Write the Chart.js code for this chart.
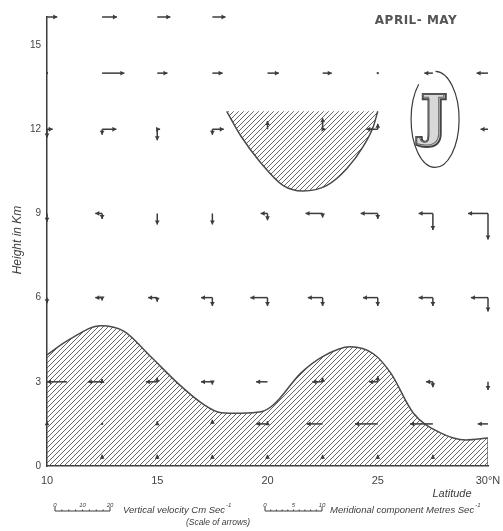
<!DOCTYPE html>
<html>
<head>
<meta charset="utf-8">
<script src="https://cdn.jsdelivr.net/npm/chart.js@4"></script>
<style>
  html, body { margin: 0; padding: 0; background: #fff; }
  #wrap { width: 503px; height: 531px; }
</style>
</head>
<body>
<div id="wrap"><canvas id="chart" width="503" height="531"></canvas></div>
<script>
// grid of arrows
const arrowLats = [10, 12.5, 15, 17.5, 20, 22.5, 25, 27.5, 30];
const arrowHeights = [16, 14, 12, 9, 6, 3, 1.5, 0.25];
// meridional component, m/s (+ = northward)
const meridional = [
  [1.8, 2.6, 2.3, 2.3, null, null, null, null, null],
  [0.3, 3.9, 1.8, 1.8, 2.0, 1.6, 0.3, -1.5, -2.0],
  [1.0, 2.5, 0.5, 2.0, 0.2, 0.5, -2.0, null, -1.3],
  [0.3, -1.2, -0.3, -0.3, -1.2, -3.0, -3.0, -2.5, -3.5],
  [0.3, -1.2, -1.6, -2.0, -3.0, -2.6, -2.6, -2.5, -3.0],
  [-3.5, -2.5, -2.0, -2.0, -2.0, -1.8, -1.5, -1.2, -0.3],
  [0, 0, 0, -0.3, -2.0, -2.8, -4.0, -4.0, -1.8],
  [null, 0, 0, 0, 0, 0, 0, 0, null]
];
// vertical velocity, cm/s (+ = upward)
const vertical = [
  [0, 0, 0, 0, null, null, null, null, null],
  [0, 0, 0, 0, 0, 0, 0, 0, 0],
  [-3, -2, -4, -2, 3, 4, 2, null, 0],
  [-3, -2, -4, -4, -2.5, -1.5, -2, -6, -9.5],
  [-2, -1, -1.5, -3, -3, -3, -3, -3, -5],
  [0, 1, 1.5, -1, 0, 1.5, 2, -2, -3],
  [1, 0.5, 1, 1.5, 1, 0, 0, 0, 0],
  [null, 1.5, 1.5, 1.5, 1.5, 1.5, 1.5, 1.5, null]
];

// lower hatched region (height, km)
const lowerLats = [10, 11, 12.45, 13.5, 14.7, 16, 17, 17.9, 18.8, 19.7, 20.3, 21.5, 22.5, 23.75, 24.8, 25.6, 26.6, 27.8, 29, 30];
const lowerTop  = [3.96, 4.5, 5.0, 4.8, 3.9, 2.9, 2.25, 1.9, 1.88, 1.93, 2.2, 3.3, 3.9, 4.25, 4.0, 3.3, 1.9, 1.2, 0.93, 1.0];
// upper hatched region
const upperLats   = [18.15, 18.8, 19.7, 20.7, 21.6, 22.7, 23.6, 24.35, 24.8, 25.0];
const upperBottom = [12.64, 11.75, 10.8, 10.0, 9.8, 10.0, 10.6, 11.4, 12.1, 12.64];
const upperCeiling = 12.64;

const xTicks = [10, 15, 20, 25, 30];
const yTicks = [0, 3, 6, 9, 12, 15];

const INK = '#3c3c3c';
const PX_PER_MS = 5.7;    // arrow scale, meridional
const PX_PER_CMS = 2.75;  // arrow scale, vertical

function hatch() {
  const c = document.createElement('canvas');
  c.width = 5; c.height = 5;
  const g = c.getContext('2d');
  g.strokeStyle = '#555';
  g.lineWidth = 0.9;
  g.beginPath();
  g.moveTo(-1, 6); g.lineTo(6, -1);
  g.moveTo(-1, 1); g.lineTo(1, -1);
  g.moveTo(4, 6); g.lineTo(6, 4);
  g.stroke();
  return g.createPattern(c, 'repeat');
}
const pattern = hatch();

function head(ctx, x, y, dx, dy) {
  const L = 4, W = 2.4;
  ctx.beginPath();
  ctx.moveTo(x, y);
  ctx.lineTo(x - dx * L - dy * W, y - dy * L + dx * W);
  ctx.lineTo(x - dx * L + dy * W, y - dy * L - dx * W);
  ctx.closePath();
  ctx.fill();
}

const arrowPlugin = {
  id: 'arrows',
  afterDatasetsDraw(chart) {
    const { ctx, scales: { x, y }, chartArea } = chart;
    ctx.save();
    ctx.strokeStyle = INK;
    ctx.fillStyle = INK;
    ctx.lineWidth = 1.5;
    arrowHeights.forEach((h, r) => {
      arrowLats.forEach((lat, c) => {
        const u = meridional[r][c], w = vertical[r][c];
        if (u === null || w === null) return;
        const px = x.getPixelForValue(lat), py = y.getPixelForValue(h);
        let du = u * PX_PER_MS, dw = w * PX_PER_CMS;
        let ox = 0;
        if (px + du < chartArea.left - 2) ox = -du;
        if (Math.abs(du) < 2.5 && Math.abs(dw) < 2.5) {
          ctx.fillRect(px - 1, py - 1, 2, 2);
          return;
        }
        if (Math.abs(du) >= 2.5) {
          ctx.beginPath();
          ctx.moveTo(px + ox, py);
          ctx.lineTo(px + ox + du, py);
          ctx.stroke();
          head(ctx, px + ox + du, py, Math.sign(du), 0);
        }
        if (Math.abs(dw) >= 2.5) {
          ctx.beginPath();
          ctx.moveTo(px, py);
          ctx.lineTo(px, py - dw);
          ctx.stroke();
          head(ctx, px, py - dw, 0, -Math.sign(dw));
        }
      });
    });
    ctx.restore();
  }
};

function scaleBar(ctx, x0, len, n, labels) {
  const yb = 511;
  ctx.beginPath();
  ctx.moveTo(x0, yb); ctx.lineTo(x0 + len, yb);
  ctx.moveTo(x0, yb - 4); ctx.lineTo(x0, yb);
  ctx.moveTo(x0 + len, yb - 4); ctx.lineTo(x0 + len, yb);
  for (let i = 1; i < n; i++) {
    const xx = x0 + len * i / n;
    ctx.moveTo(xx, yb - 1.5); ctx.lineTo(xx, yb);
  }
  ctx.stroke();
  ctx.font = 'italic 6px "Liberation Sans"';
  ctx.textAlign = 'center';
  labels.forEach((t, i) => ctx.fillText(t, x0 + len * i / (labels.length - 1), yb - 6));
}

const decorPlugin = {
  id: 'decor',
  afterDraw(chart) {
    const { ctx, scales: { x, y } } = chart;
    ctx.save();
    ctx.fillStyle = INK;
    ctx.strokeStyle = INK;

    // title
    ctx.font = 'bold 12px "DejaVu Sans"';
    ctx.textAlign = 'center';
    ctx.textBaseline = 'middle';
    ctx.letterSpacing = '0.5px';
    ctx.fillStyle = '#555';
    ctx.fillText('APRIL- MAY', 416, 21);
    ctx.letterSpacing = '0px';
    ctx.fillStyle = INK;

    // J emblem
    const cx = x.getPixelForValue(27.6), cy = y.getPixelForValue(12.35);
    ctx.lineWidth = 1.2;
    ctx.beginPath();
    ctx.ellipse(cx, cy, 24, 48, 0, -89 * Math.PI / 180, 227 * Math.PI / 180);
    ctx.stroke();
    ctx.font = 'bold 54px "DejaVu Serif"';
    ctx.lineWidth = 4;
    ctx.strokeStyle = '#444';
    ctx.strokeText('J', cx - 1, cy + 2);
    ctx.fillStyle = '#d8d8d8';
    ctx.fillText('J', cx - 1, cy + 2);
    ctx.lineWidth = 1;
    ctx.strokeStyle = '#666';
    ctx.strokeText('J', cx - 2, cy + 1);
    ctx.fillStyle = INK;
    ctx.strokeStyle = INK;

    // axis titles
    ctx.font = 'italic 12px "Liberation Sans"';
    ctx.save();
    ctx.translate(18, 240);
    ctx.rotate(-Math.PI / 2);
    ctx.fillText('Height in Km', 0, 0);
    ctx.restore();
    ctx.font = 'italic 11px "Liberation Sans"';
    ctx.fillText('Latitude', 452, 494);

    // scale of arrows
    ctx.lineWidth = 1;
    scaleBar(ctx, 55, 20 * PX_PER_CMS, 8, ['0', '10', '20']);
    scaleBar(ctx, 265, 10 * PX_PER_MS, 10, ['0', '5', '10']);
    ctx.font = 'italic 9.5px "Liberation Sans"';
    ctx.textAlign = 'left';
    ctx.textBaseline = 'alphabetic';
    let t = 'Vertical velocity Cm Sec';
    ctx.fillText(t, 123, 513);
    let tw = ctx.measureText(t).width;
    ctx.font = 'italic 6px "Liberation Sans"';
    ctx.fillText('-1', 123 + tw + 1, 507);
    ctx.font = 'italic 9.5px "Liberation Sans"';
    t = 'Meridional component Metres Sec';
    ctx.fillText(t, 330, 513);
    tw = ctx.measureText(t).width;
    ctx.font = 'italic 6px "Liberation Sans"';
    ctx.fillText('-1', 330 + tw + 1, 507);
    ctx.font = 'italic 8.5px "Liberation Sans"';
    ctx.textAlign = 'center';
    ctx.fillText('(Scale of arrows)', 218, 525);
    ctx.restore();
  }
};

new Chart(document.getElementById('chart'), {
  type: 'line',
  data: {
    datasets: [
      {
        data: lowerLats.map((v, i) => ({ x: v, y: lowerTop[i] })),
        borderColor: '#4a4a4a',
        borderWidth: 1.5,
        backgroundColor: pattern,
        fill: 'origin',
        pointRadius: 0,
        cubicInterpolationMode: 'monotone'
      },
      {
        data: [{ x: 30, y: 0 }, { x: 30, y: lowerTop[lowerTop.length - 1] }],
        borderColor: '#4a4a4a',
        borderWidth: 1.2,
        pointRadius: 0,
        fill: false
      },
      {
        data: upperLats.map((v, i) => ({ x: v, y: upperBottom[i] })),
        borderColor: '#4a4a4a',
        borderWidth: 1.5,
        backgroundColor: pattern,
        fill: { value: upperCeiling },
        pointRadius: 0,
        cubicInterpolationMode: 'monotone'
      }
    ]
  },
  options: {
    responsive: false,
    animation: false,
    layout: { padding: { top: 17, right: 15, bottom: 45, left: 0 } },
    plugins: { legend: { display: false }, tooltip: { enabled: false } },
    scales: {
      x: {
        type: 'linear', min: 10, max: 30,
        afterBuildTicks: s => { s.ticks = xTicks.map(v => ({ value: v })); },
        afterFit: s => { s.height = 20; s.paddingLeft = 0; s.paddingRight = 0; },
        grid: { display: false, drawTicks: false },
        border: { display: true, color: INK, width: 1.5 },
        ticks: {
          padding: 8, color: '#444',
          font: { family: 'Liberation Sans', size: 11 },
          callback: v => v === 30 ? '30°N' : String(v)
        }
      },
      y: {
        min: 0, max: 16,
        afterBuildTicks: s => { s.ticks = yTicks.map(v => ({ value: v })); },
        afterFit: s => { s.width = 47; s.paddingTop = 0; s.paddingBottom = 0; },
        grid: { display: false, drawTicks: false },
        border: { display: true, color: INK, width: 1.5 },
        ticks: {
          padding: 6, color: '#444',
          font: { family: 'Liberation Sans', size: 10 }
        }
      }
    }
  },
  plugins: [arrowPlugin, decorPlugin]
});
</script>
</body>
</html>
